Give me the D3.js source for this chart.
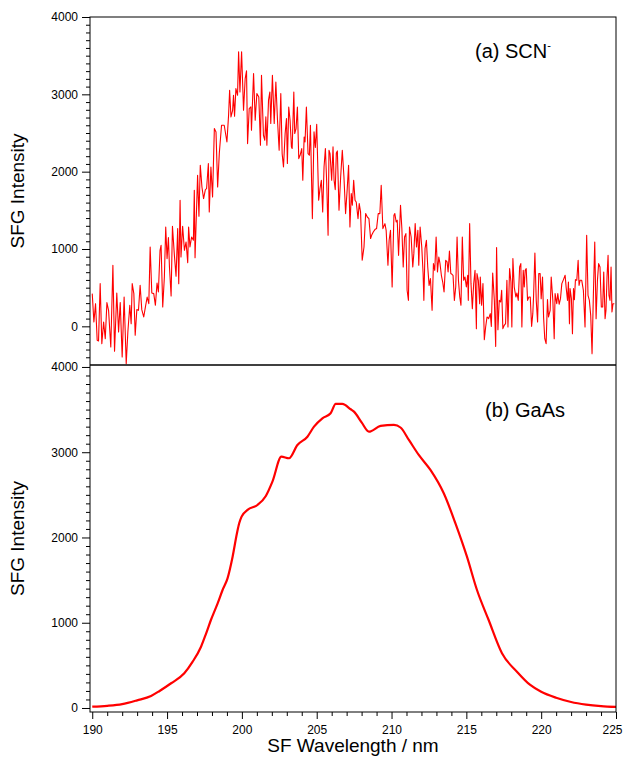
<!DOCTYPE html>
<html>
<head>
<meta charset="utf-8">
<script src="https://d3js.org/d3.v7.min.js"></script>
<style>
  body { margin: 0; background: #fff; }
  svg { font-family: "Liberation Sans", Arial, Helvetica, sans-serif; }
  .axis path, .axis line { stroke: #000; }
  .axis text { font-size: 12px; fill: #000; }
</style>
</head>
<body>
<svg id="chart" width="623" height="757"></svg>
<script>
// (a) SCN- spectrum: [SF wavelength (nm), SFG intensity]
const scnData = [
  [190.00, 423], [190.11, 56], [190.22, 293], [190.33, -181], [190.42, -190], [190.53, 552],
  [190.64, -224], [190.76, 56], [190.87, -160], [190.98, 307], [191.09, 207], [191.24, -267],
  [191.38, 789], [191.49, -323], [191.64, 431], [191.76, -73], [191.87, 307], [192.00, -397],
  [192.13, 379], [192.27, -483], [192.38, -73], [192.51, 272], [192.60, 35], [192.67, 552],
  [192.78, 423], [192.87, -116], [192.98, 216], [193.09, 207], [193.20, 530], [193.31, 216],
  [193.44, 121], [193.56, 259], [193.67, 379], [193.78, 293], [193.87, 1026], [193.98, 431],
  [194.11, 423], [194.22, 272], [194.33, 560], [194.42, 444], [194.53, 983], [194.60, 1048],
  [194.71, 250], [194.82, 638], [194.91, 1285], [195.00, 876], [195.09, 1147], [195.16, 767],
  [195.27, 392], [195.36, 1294], [195.49, 918], [195.60, 647], [195.71, 1264], [195.78, 552],
  [195.87, 1630], [195.93, 897], [196.04, 1294], [196.16, 983], [196.27, 1091], [196.38, 824],
  [196.44, 1285], [196.53, 1026], [196.64, 1155], [196.76, 1113], [196.82, 1759], [196.87, 888],
  [197.04, 1953], [197.13, 1423], [197.22, 2083], [197.33, 1802], [197.44, 1652], [197.56, 1768],
  [197.64, 1780], [197.76, 2105], [197.82, 1479], [197.93, 2061], [198.04, 1673], [198.16, 2557],
  [198.27, 2514], [198.38, 1802], [198.49, 2234], [198.64, 2600], [198.82, 2600], [199.00, 2384],
  [199.11, 2730], [199.18, 3053], [199.27, 2708], [199.38, 2794], [199.44, 2988], [199.51, 2717],
  [199.60, 3075], [199.71, 2988], [199.78, 3549], [199.87, 3031], [199.98, 3549], [200.11, 2794],
  [200.22, 3204], [200.31, 3303], [200.38, 2363], [200.49, 2816], [200.60, 2837], [200.64, 2536],
  [200.78, 3269], [200.89, 2665], [201.00, 3010], [201.13, 2966], [201.24, 2342], [201.31, 3247],
  [201.44, 2471], [201.53, 2406], [201.60, 2708], [201.67, 2342], [201.78, 2924], [201.87, 3031],
  [201.93, 2622], [202.04, 3247], [202.16, 2622], [202.27, 3160], [202.38, 2665], [202.49, 2277],
  [202.60, 3010], [202.69, 2234], [202.78, 2061], [202.89, 2493], [202.98, 2687], [203.04, 2105],
  [203.13, 2837], [203.22, 2665], [203.31, 2320], [203.36, 2299], [203.47, 3031], [203.53, 2493],
  [203.62, 2557], [203.71, 2837], [203.80, 2169], [203.89, 2212], [204.00, 2299], [204.07, 1889],
  [204.16, 2449], [204.22, 2384], [204.31, 2837], [204.42, 2234], [204.51, 2212], [204.58, 2600],
  [204.71, 1393], [204.82, 2514], [204.91, 2312], [205.00, 2613], [205.13, 1630], [205.22, 1781],
  [205.31, 1889], [205.40, 1479], [205.49, 2061], [205.58, 2299], [205.67, 1846], [205.76, 1177],
  [205.82, 2277], [205.89, 2234], [206.00, 1889], [206.09, 2320], [206.16, 1889], [206.24, 1768],
  [206.31, 2242], [206.38, 2268], [206.49, 1501], [206.60, 1932], [206.71, 2277], [206.82, 1932],
  [206.93, 1458], [207.04, 1781], [207.13, 2083], [207.22, 1285], [207.31, 1717], [207.38, 1565],
  [207.47, 1889], [207.56, 1630], [207.64, 1608], [207.76, 1393], [207.84, 1587], [207.93, 1479],
  [208.04, 854], [208.16, 1026], [208.27, 1458], [208.38, 1414], [208.49, 1393], [208.60, 1135],
  [208.67, 1177], [208.78, 1220], [208.89, 1251], [209.00, 1264], [209.11, 1458], [209.22, 1458],
  [209.31, 1824], [209.42, 1264], [209.56, 1328], [209.64, 1242], [209.76, 789], [209.84, 1113],
  [209.93, 1242], [210.04, 508], [210.16, 1436], [210.22, 1458], [210.31, 1349], [210.38, 1371],
  [210.47, 918], [210.60, 1565], [210.69, 1264], [210.78, 767], [210.87, 1155], [210.96, 1199],
  [211.04, 466], [211.13, 336], [211.20, 1285], [211.31, 1155], [211.42, 767], [211.49, 940],
  [211.58, 1328], [211.67, 1026], [211.76, 1242], [211.82, 789], [211.91, 1285], [212.02, 1026],
  [212.11, 682], [212.16, 336], [212.24, 1005], [212.33, 1113], [212.42, 767], [212.51, 530],
  [212.60, 617], [212.71, 207], [212.80, 811], [212.89, 724], [212.98, 1155], [213.07, 702],
  [213.16, 896], [213.24, 810], [213.33, 660], [213.42, 573], [213.51, 444], [213.62, 854],
  [213.71, 833], [213.78, 702], [213.87, 974], [213.96, 682], [214.04, 673], [214.11, 660],
  [214.20, 336], [214.29, 508], [214.38, 1155], [214.47, 595], [214.56, 379], [214.64, 272],
  [214.73, 1155], [214.82, 595], [214.91, 638], [215.00, 508], [215.09, 660], [215.13, 336],
  [215.22, 1328], [215.31, 552], [215.40, 229], [215.49, 552], [215.58, 724], [215.67, -30],
  [215.71, 682], [215.80, 595], [215.89, 293], [215.93, 638], [216.02, 272], [216.11, 552],
  [216.20, -172], [216.29, -9], [216.38, 121], [216.49, 99], [216.60, 164], [216.67, 0],
  [216.76, 690], [216.87, 336], [216.96, -259], [217.02, 1018], [217.11, -43], [217.20, 336],
  [217.29, 315], [217.36, 466], [217.44, -30], [217.53, 13], [217.62, 35], [217.71, 595],
  [217.78, -9], [217.89, 746], [217.98, 573], [218.04, -9], [218.11, 876], [218.20, 508],
  [218.31, 379], [218.38, 431], [218.47, 336], [218.56, 767], [218.64, 811], [218.71, -9],
  [218.80, 724], [218.87, 508], [218.93, 724], [219.00, 746], [219.09, 336], [219.18, 379],
  [219.27, 379], [219.36, 0], [219.44, 164], [219.49, 379], [219.58, 948], [219.67, 336],
  [219.76, 56], [219.84, 682], [219.93, 682], [220.00, 358], [220.09, 638], [220.16, 121],
  [220.24, -160], [220.33, -224], [220.42, 345], [220.49, 121], [220.60, 207], [220.67, 638],
  [220.78, 336], [220.87, -160], [220.93, 423], [221.04, 293], [221.11, 423], [221.20, 285],
  [221.29, 358], [221.38, 552], [221.49, 604], [221.60, 660], [221.67, 500], [221.76, 336],
  [221.82, 573], [221.89, 35], [221.93, 488], [222.02, 358], [222.09, -95], [222.16, 488],
  [222.22, 345], [222.29, 604], [222.38, 595], [222.47, 854], [222.53, 530], [222.60, 595],
  [222.71, 595], [222.82, 466], [222.93, -9], [223.04, 1177], [223.13, 401], [223.22, 336],
  [223.31, 142], [223.40, -353], [223.49, 423], [223.58, 1091], [223.67, 99], [223.76, 595],
  [223.84, 811], [223.93, 767], [224.02, 250], [224.11, 250], [224.18, 702], [224.27, 99],
  [224.33, 207], [224.40, 638], [224.47, 918], [224.53, 401], [224.60, 336], [224.67, 767],
  [224.73, 185], [224.80, 293], [224.89, 293]
];

// (b) GaAs spectrum: [SF wavelength (nm), SFG intensity]
const gaasData = [
  [190.0, 15], [191.0, 25], [192.0, 45], [193.0, 90], [193.93, 141], [194.5, 200],
  [195.27, 290], [196.15, 407], [196.7, 540], [197.27, 719], [197.6, 870], [197.93, 1032],
  [198.38, 1228], [198.71, 1384], [199.04, 1521], [199.38, 1775], [199.67, 2049], [199.82, 2166],
  [199.98, 2244], [200.38, 2323], [201.04, 2381], [201.6, 2487], [202.04, 2655], [202.64, 2948],
  [203.15, 2929], [203.71, 3085], [204.38, 3182], [204.82, 3300], [205.38, 3398], [205.93, 3457],
  [206.27, 3566], [206.71, 3566], [207.27, 3504], [207.49, 3476], [208.0, 3350], [208.49, 3241],
  [209.27, 3308], [210.16, 3320], [210.6, 3290], [211.16, 3144], [211.82, 2968], [212.6, 2792],
  [213.49, 2518], [214.27, 2166], [215.04, 1775], [215.71, 1384], [216.49, 1032], [217.38, 642],
  [218.38, 426], [219.27, 270], [220.0, 190], [221.0, 120], [222.0, 70], [223.0, 40],
  [224.0, 22], [225.0, 12]
];

const xTicks = [190, 195, 200, 205, 210, 215, 220, 225];
const yTicks = [0, 1000, 2000, 3000, 4000];

const svg = d3.select('#chart');
const plotLeft = 90, plotRight = 616;
const top1 = 17, mid = 365, bot2 = 712;

const x = d3.scaleLinear().domain([189.85, 225]).range([plotLeft, plotRight]);
const y1 = d3.scaleLinear().domain([-500, 4000]).range([mid, top1]);
const y2 = d3.scaleLinear().domain([-47, 4023]).range([bot2, mid]);

// clip paths
const defs = svg.append('defs');
defs.append('clipPath').attr('id', 'clipA').append('rect')
  .attr('x', plotLeft).attr('y', top1).attr('width', plotRight - plotLeft).attr('height', mid - top1);
defs.append('clipPath').attr('id', 'clipB').append('rect')
  .attr('x', plotLeft).attr('y', mid).attr('width', plotRight - plotLeft).attr('height', bot2 - mid);

// data lines
const lineA = d3.line().x(d => x(d[0])).y(d => y1(d[1]));
const lineB = d3.line().curve(d3.curveMonotoneX).x(d => x(d[0])).y(d => y2(d[1]));

svg.append('path').datum(scnData)
  .attr('clip-path', 'url(#clipA)')
  .attr('fill', 'none').attr('stroke', '#ff0000').attr('stroke-width', 1.1)
  .attr('stroke-linejoin', 'round')
  .attr('d', lineA);

svg.append('path').datum(gaasData)
  .attr('clip-path', 'url(#clipB)')
  .attr('fill', 'none').attr('stroke', '#ff0000').attr('stroke-width', 2.2)
  .attr('stroke-linejoin', 'round')
  .attr('d', lineB);

// frames
svg.append('rect')
  .attr('x', plotLeft).attr('y', top1).attr('width', plotRight - plotLeft).attr('height', bot2 - top1)
  .attr('fill', 'none').attr('stroke', '#000').attr('stroke-width', 1);
svg.append('line')
  .attr('x1', plotLeft).attr('x2', plotRight).attr('y1', mid).attr('y2', mid)
  .attr('stroke', '#000').attr('stroke-width', 1.6);

// y axes
function yAxes(scale, minorFrom) {
  svg.append('g').attr('class', 'axis')
    .attr('transform', `translate(${plotLeft},0)`)
    .call(d3.axisLeft(scale).tickValues(d3.range(minorFrom, 4001, 100).filter(v => v % 1000 !== 0))
      .tickSize(4).tickFormat(''))
    .call(g => g.select('.domain').remove());
  svg.append('g').attr('class', 'axis')
    .attr('transform', `translate(${plotLeft},0)`)
    .call(d3.axisLeft(scale).tickValues(yTicks).tickSize(8).tickPadding(4).tickFormat(d3.format('d')))
    .call(g => g.select('.domain').remove());
}
yAxes(y1, -400);
yAxes(y2, 0);

// x axis
svg.append('g').attr('class', 'axis')
  .attr('transform', `translate(0,${bot2})`)
  .call(d3.axisBottom(x).tickValues(d3.range(190, 226, 1).filter(v => v % 5 !== 0))
    .tickSize(4).tickFormat(''))
  .call(g => g.select('.domain').remove());
svg.append('g').attr('class', 'axis')
  .attr('transform', `translate(0,${bot2})`)
  .call(d3.axisBottom(x).tickValues(xTicks).tickSize(7).tickPadding(6).tickFormat(d3.format('d')))
  .call(g => g.select('.domain').remove())
  .call(g => g.selectAll('.tick text').filter(d => d === 225)
    .attr('text-anchor', 'end').attr('x', 6));

// axis titles
svg.append('text')
  .attr('transform', `translate(24,${(top1 + mid) / 2}) rotate(-90)`)
  .attr('text-anchor', 'middle').attr('font-size', 19)
  .text('SFG Intensity');
svg.append('text')
  .attr('transform', `translate(24,${(mid + bot2) / 2}) rotate(-90)`)
  .attr('text-anchor', 'middle').attr('font-size', 19)
  .text('SFG Intensity');
svg.append('text')
  .attr('x', (plotLeft + plotRight) / 2).attr('y', 752)
  .attr('text-anchor', 'middle').attr('font-size', 19)
  .text('SF Wavelength / nm');

// panel labels
const la = svg.append('text').attr('x', 475).attr('y', 58).attr('font-size', 20);
la.append('tspan').text('(a) SCN');
la.append('tspan').attr('font-size', 11).attr('dy', -9).text('-');
svg.append('text').attr('x', 485).attr('y', 417).attr('font-size', 20).text('(b) GaAs');
</script>
</body>
</html>
